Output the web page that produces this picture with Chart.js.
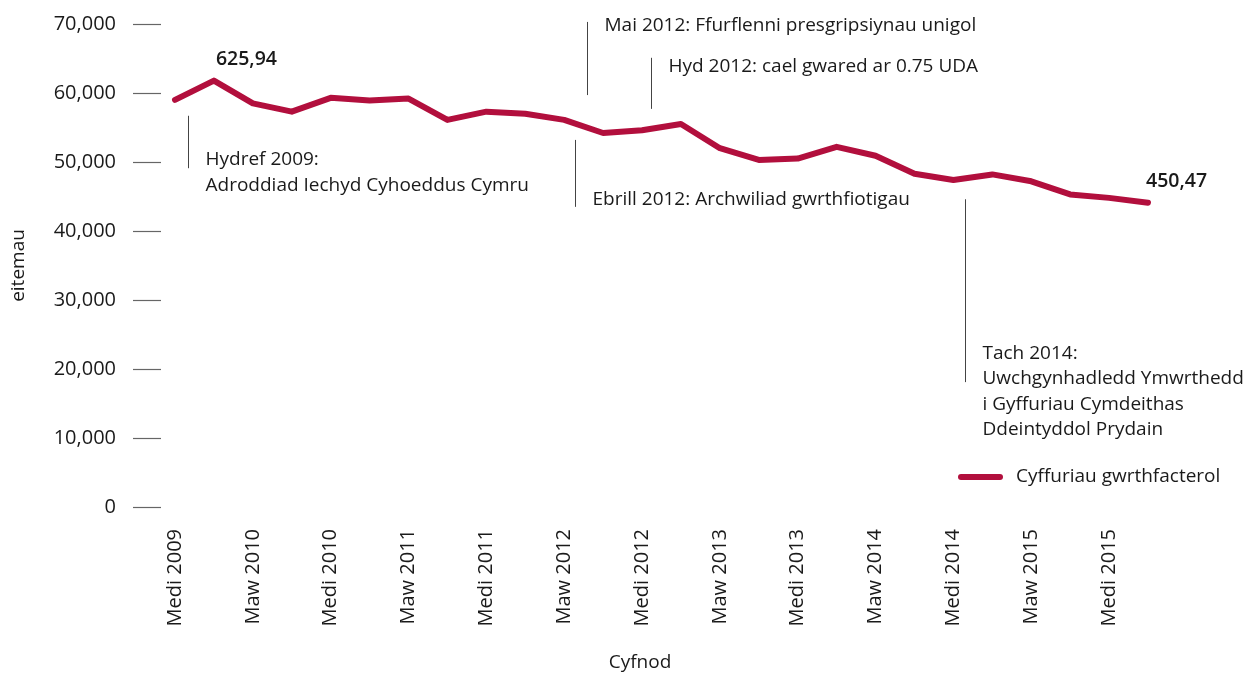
<!DOCTYPE html>
<html><head><meta charset="utf-8">
<script src="https://cdn.jsdelivr.net/npm/chart.js@4/dist/chart.umd.min.js"></script>
<style>html,body{margin:0;padding:0;background:#fff}#wrap{width:1258px;height:675px;position:relative}</style>
</head><body><div id="wrap"><canvas id="c" width="1258" height="675"></canvas></div>
<script>
// ---- data ----
const categories = [
  'Medi 2009','Rhag 2009','Maw 2010','Meh 2010','Medi 2010','Rhag 2010','Maw 2011','Meh 2011',
  'Medi 2011','Rhag 2011','Maw 2012','Meh 2012','Medi 2012','Rhag 2012','Maw 2013','Meh 2013',
  'Medi 2013','Rhag 2013','Maw 2014','Meh 2014','Medi 2014','Rhag 2014','Maw 2015','Meh 2015',
  'Medi 2015','Rhag 2015'
];
const values = [
  59000, 61800, 58500, 57300, 59300, 58900, 59200, 56100,
  57300, 57000, 56100, 54200, 54600, 55500, 52000, 50300,
  50500, 52200, 50900, 48300, 47400, 48200, 47200, 45300,
  44800, 44100
];
const seriesName = 'Cyffuriau gwrthfacterol';
const xTitle = 'Cyfnod';
const yTitle = 'eitemau';
const yTickValues = [0, 10000, 20000, 30000, 40000, 50000, 60000, 70000];
const valueLabelIndex = [1, 25];
const valueLabelText = ['625,94', '450,47'];
const annotX = [0.33, 10.28, 10.59, 12.23, 20.3];
const annotTop = [56700, 53200, 70300, 65100, 44600];
const annotBottom = [49100, 43500, 59700, 57700, 18100];
const annotTextY = [50300, 44600, 69700, 63800, 22300];
const annotText = [
  ['Hydref 2009:', 'Adroddiad Iechyd Cyhoeddus Cymru'],
  ['Ebrill 2012: Archwiliad gwrthfiotigau'],
  ['Mai 2012: Ffurflenni presgripsiynau unigol'],
  ['Hyd 2012: cael gwared ar 0.75 UDA'],
  ['Tach 2014:', 'Uwchgynhadledd Ymwrthedd', 'i Gyffuriau Cymdeithas', 'Ddeintyddol Prydain']
];

const FONT = '"Open Sans", "Noto Sans", sans-serif';
const FS = 19;
const FT = 20;
const RED = '#B20F3D';
const TXT = '#1a1a1a';

const extras = {
  id: 'extras',
  afterDatasetsDraw(chart) {
    const ctx = chart.ctx, xs = chart.scales.x, ys = chart.scales.y;
    const meta = chart.getDatasetMeta(0);
    ctx.save();
    // annotations
    ctx.font = '400 ' + FS + 'px ' + FONT;
    ctx.textBaseline = 'middle';
    ctx.textAlign = 'left';
    for (let i = 0; i < annotX.length; i++) {
      const x0 = xs.getPixelForValue(0), x1 = xs.getPixelForValue(1);
      const x = Math.round(x0 + (x1 - x0) * annotX[i]) + 0.5;
      ctx.strokeStyle = '#444';
      ctx.lineWidth = 1;
      ctx.beginPath();
      ctx.moveTo(x, ys.getPixelForValue(annotTop[i]));
      ctx.lineTo(x, ys.getPixelForValue(annotBottom[i]));
      ctx.stroke();
      ctx.fillStyle = TXT;
      const ty = ys.getPixelForValue(annotTextY[i]);
      annotText[i].forEach((t, k) => ctx.fillText(t, x + 17, ty + k * 25.5));
    }
    // value labels
    ctx.font = '600 19.5px ' + FONT;
    ctx.fillStyle = TXT;
    valueLabelIndex.forEach((idx, k) => {
      const p = meta.data[idx];
      ctx.textAlign = 'left';
      ctx.fillText(valueLabelText[k], p.x + (k === 0 ? 2 : -2), p.y - 21);
    });
    // legend
    const lx = 958, ly = 477;
    ctx.strokeStyle = RED; ctx.lineWidth = 6; ctx.lineCap = 'round';
    ctx.beginPath(); ctx.moveTo(lx + 3, ly); ctx.lineTo(lx + 42, ly); ctx.stroke();
    ctx.font = '400 ' + FS + 'px ' + FONT;
    ctx.fillStyle = TXT; ctx.textAlign = 'left';
    ctx.fillText(seriesName, lx + 58, ly);
    // x title
    ctx.textAlign = 'center';
    ctx.fillText(xTitle, 640, 663);
    ctx.restore();
  }
};

new Chart(document.getElementById('c'), {
  type: 'line',
  data: {
    labels: categories,
    datasets: [{
      label: seriesName,
      data: values,
      borderColor: RED,
      backgroundColor: RED,
      borderWidth: 6,
      borderJoinStyle: 'round',
      borderCapStyle: 'round',
      pointRadius: 0,
      tension: 0,
      clip: false
    }]
  },
  options: {
    responsive: false,
    animation: false,
    devicePixelRatio: 1,
    layout: { padding: { left: 0, right: 110, top: 24, bottom: 0 } },
    plugins: { legend: { display: false }, tooltip: { enabled: false } },
    scales: {
      x: {
        offset: false,
        grid: { display: false, drawTicks: false },
        border: { display: false },
        ticks: {
          autoSkip: false, maxRotation: 90, minRotation: 90, padding: 22,
          color: TXT, font: { family: FONT, size: FT, weight: '400' },
          callback: (v, i) => (i % 2 === 0 ? categories[i] : '')
        },
        title: { display: false },
        afterFit: s => { s.height = 168; s.paddingTop = 0; }
      },
      y: {
        min: 0, max: 70000,
        afterBuildTicks: s => { s.ticks = yTickValues.map(v => ({ value: v })); },
        grid: { drawOnChartArea: false, drawTicks: true, tickLength: 42, tickBorderDash: [28, 20], tickColor: '#666', tickWidth: 1.2 },
        border: { display: false },
        ticks: {
          padding: 17, color: TXT, font: { family: FONT, size: FT, weight: '400' },
          callback: v => v.toLocaleString('en-US')
        },
        title: { display: true, text: yTitle, color: TXT, font: { family: FONT, size: FS, weight: '400' }, padding: { top: 7, bottom: 0 } },
        afterFit: s => { s.width = 175; s.paddingTop = 0; s.paddingBottom = 0; }
      }
    }
  },
  plugins: [extras]
});
</script>
</body></html>
